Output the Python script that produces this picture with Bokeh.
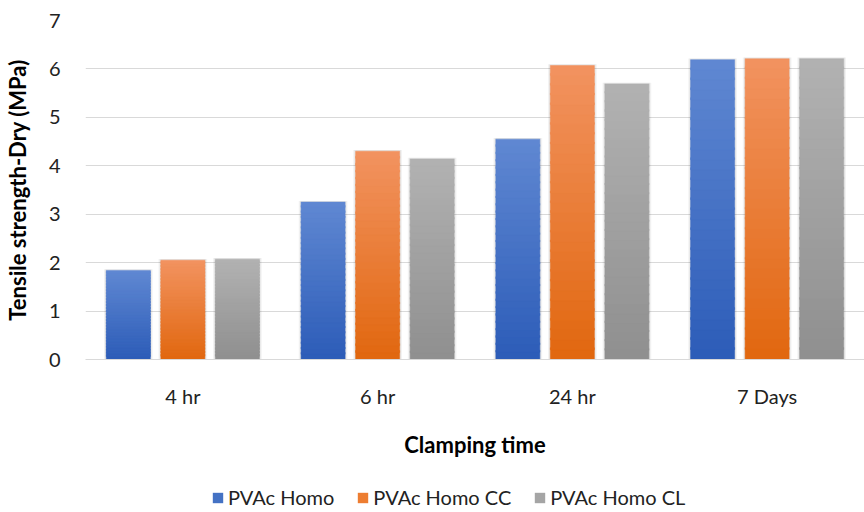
import numpy as np
from bokeh.plotting import figure
from bokeh.layouts import column
from bokeh.models import FactorRange, Range1d, Legend, LegendItem, ColumnDataSource
from bokeh.transform import dodge
from bokeh.embed import file_html
from bokeh.resources import INLINE

categories = ["4 hr", "6 hr", "24 hr", "7 Days"]
series_names = ["PVAc Homo", "PVAc Homo CC", "PVAc Homo CL"]
homo = [1.84, 3.25, 4.55, 6.19]
homo_cc = [2.05, 4.30, 6.07, 6.21]
homo_cl = [2.07, 4.14, 5.69, 6.21]
series_values = [homo, homo_cc, homo_cl]

# gradient colours (top, bottom) and legend colour per series
grad = [("#6088D2", "#2C5CB8"), ("#F29360", "#E1670F"), ("#B2B2B2", "#8F8F8F")]
legend_colors = ["#4472C4", "#ED7D31", "#A5A5A5"]
offsets = [-0.28, 0.0, 0.28]
bar_w = 0.226
FONT = "Lato"

p = figure(frame_width=779, frame_height=339, x_range=FactorRange(*categories), y_range=Range1d(0, 7),
           output_backend="svg", toolbar_location=None,
           min_border_left=85, min_border_right=0, min_border_top=20, min_border_bottom=100)
p.outline_line_color = None
p.background_fill_color = "white"
p.border_fill_color = "white"

def hex2rgb(h):
    h = h.lstrip("#")
    return np.array([int(h[i:i + 2], 16) for i in (0, 2, 4)], dtype=float)

N = 30
for s, (name, vals) in enumerate(zip(series_names, series_values)):
    # soft shadow
    sh = ColumnDataSource(dict(x=categories, top=[v + 0.025 for v in vals]))
    p.vbar(x=dodge("x", offsets[s], range=p.x_range), top="top", bottom=0, width=bar_w + 0.024,
           source=sh, fill_color="#000000", fill_alpha=0.05, line_color=None)
    p.vbar(x=dodge("x", offsets[s], range=p.x_range), top="top", bottom=0, width=bar_w + 0.012,
           source=sh, fill_color="#000000", fill_alpha=0.06, line_color=None)
    ctop, cbot = hex2rgb(grad[s][0]), hex2rgb(grad[s][1])
    xs, bots, tops, cols = [], [], [], []
    for c, v in zip(categories, vals):
        for i in range(N):
            f = (i + 0.5) / N
            rgb = cbot + (ctop - cbot) * f
            xs.append(c)
            bots.append(v * i / N)
            tops.append(v * (i + 1) / N + (0.04 if i < N - 1 else 0.0))
            cols.append("#%02x%02x%02x" % tuple(int(round(t)) for t in rgb))
    src = ColumnDataSource(dict(x=xs, bottom=bots, top=tops, color=cols))
    p.vbar(x=dodge("x", offsets[s], range=p.x_range), top="top", bottom="bottom", width=bar_w,
           source=src, fill_color="color", line_color="color", line_width=0.5)

# axes
p.xgrid.grid_line_color = None
p.ygrid.grid_line_color = "#D9D9D9"
p.ygrid.grid_line_width = 1
p.yaxis.ticker = list(range(0, 8))
p.yaxis.axis_line_color = None
p.yaxis.major_tick_line_color = None
p.yaxis.minor_tick_line_color = None
p.yaxis.major_label_standoff = 19
p.yaxis.major_label_text_font = FONT
p.yaxis.major_label_text_font_size = "20px"
p.yaxis.major_label_text_color = "#222222"
p.yaxis.axis_label = "Tensile strength-Dry (MPa)"
p.yaxis.axis_label_text_font = FONT
p.yaxis.axis_label_text_font_size = "22px"
p.yaxis.axis_label_text_font_style = "bold"
p.yaxis.axis_label_text_color = "#000000"
p.yaxis.axis_label_standoff = 15

p.xaxis.axis_line_color = "#D9D9D9"
p.xaxis.axis_line_width = 1
p.xaxis.major_tick_line_color = None
p.xaxis.minor_tick_line_color = None
p.xaxis.major_label_standoff = 18
p.xaxis.major_label_text_font = FONT
p.xaxis.major_label_text_font_size = "20px"
p.xaxis.major_label_text_color = "#222222"
p.xaxis.axis_label = "Clamping time"
p.xaxis.axis_label_text_font = FONT
p.xaxis.axis_label_text_font_size = "22px"
p.xaxis.axis_label_text_font_style = "bold"
p.xaxis.axis_label_text_color = "#000000"
p.xaxis.axis_label_standoff = 20

# legend strip below the chart
lg = figure(frame_width=864, frame_height=53, x_range=Range1d(0, 1), y_range=Range1d(0, 1),
            x_axis_type=None, y_axis_type=None, output_backend="svg", toolbar_location=None,
            min_border=0)
lg.outline_line_color = None
lg.xgrid.grid_line_color = None
lg.ygrid.grid_line_color = None
items = []
for s, name in enumerate(series_names):
    proxy = lg.vbar(x=[0.5], top=[0], bottom=[0], width=0.0, fill_color=legend_colors[s], line_color=None)
    items.append(LegendItem(label=name, renderers=[proxy]))
legend = Legend(items=items, orientation="horizontal", location=(211, 4),
                label_text_font=FONT, label_text_font_size="20px", label_text_color="#222222",
                glyph_width=13, glyph_height=13, label_standoff=4, spacing=22,
                padding=2, margin=0, border_line_color=None, background_fill_alpha=0)
lg.add_layout(legend, "center")

layout = column(p, lg, spacing=0)
open("out.html", "w").write(file_html(layout, INLINE))
